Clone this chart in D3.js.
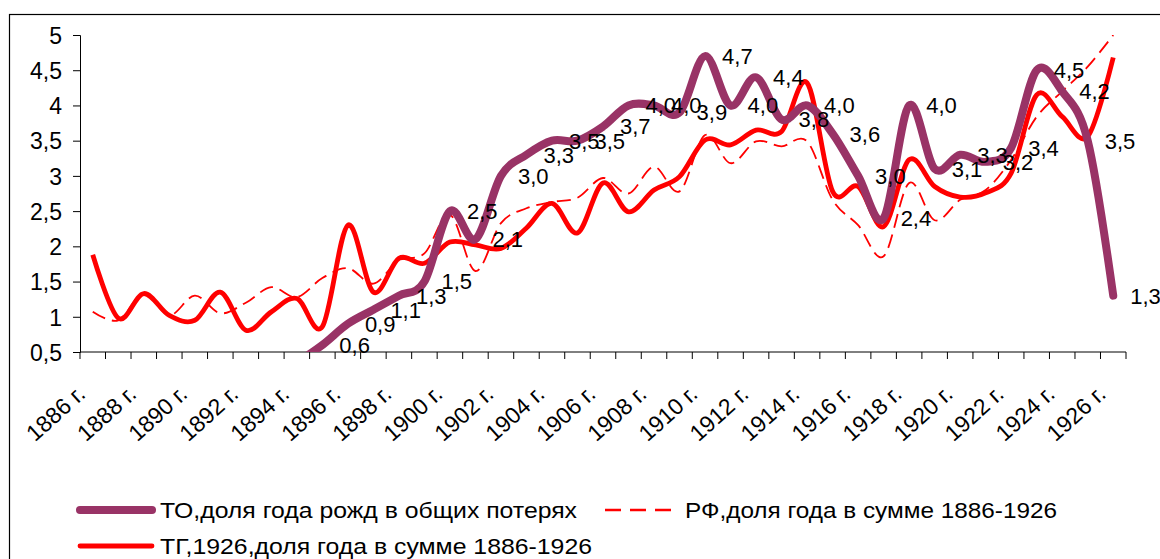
<!DOCTYPE html>
<html>
<head>
<meta charset="utf-8">
<script src="https://cdn.jsdelivr.net/npm/d3@7"></script>
<style>
  body { margin: 0; background: #fff; }
  text { font-family: "Liberation Sans", Arial, sans-serif; fill: #000; }
</style>
</head>
<body>
<svg id="chart"></svg>
<script>
var w = 1160;
var h = 559;

// categories
var years = [1886, 1887, 1888, 1889, 1890, 1891, 1892, 1893, 1894, 1895,
             1896, 1897, 1898, 1899, 1900, 1901, 1902, 1903, 1904, 1905,
             1906, 1907, 1908, 1909, 1910, 1911, 1912, 1913, 1914, 1915,
             1916, 1917, 1918, 1919, 1920, 1921, 1922, 1923, 1924, 1925, 1926];

// ТО, доля года рожд в общих потерях (labelled series)
var toShare = [null, null, null, null, null, null, null, null, 0.35, 0.6,
               0.9, 1.1, 1.3, 1.5, 2.5, 2.1, 3.0, 3.3, 3.5, 3.5,
               3.7, 4.0, 4.0, 3.9, 4.7, 4.0, 4.4, 3.8, 4.0, 3.6,
               3.0, 2.4, 4.0, 3.1, 3.3, 3.2, 3.4, 4.5, 4.2, 3.5, 1.3];

// РФ, доля года в сумме 1886-1926
var rfShare = [1.07, 0.95, 1.33, 1.02, 1.3, 1.05, 1.2, 1.42, 1.28, 1.55,
               1.69, 1.47, 1.8, 1.9, 2.45, 1.65, 2.33, 2.54, 2.63, 2.69,
               2.97, 2.75, 3.13, 2.78, 3.58, 3.18, 3.49, 3.42, 3.49, 2.66,
               2.3, 1.86, 2.9, 2.37, 2.66, 2.8, 3.23, 3.84, 4.2, 4.55, 5.0];

// ТГ, 1926, доля года в сумме 1886-1926
var tgShare = [1.88, 0.98, 1.33, 1.02, 0.95, 1.35, 0.81, 1.07, 1.26, 0.86,
               2.3, 1.35, 1.83, 1.76, 2.06, 2.02, 1.97, 2.26, 2.61, 2.19,
               2.9, 2.49, 2.8, 2.99, 3.51, 3.44, 3.65, 3.63, 4.32, 2.78,
               2.85, 2.28, 3.23, 2.85, 2.7, 2.76, 3.04, 4.15, 3.84, 3.56, 4.68];

var yTicks = [0.5, 1, 1.5, 2, 2.5, 3, 3.5, 4, 4.5, 5];

var legendNames = ["ТО,доля года рожд в общих потерях",
                   "РФ,доля года в сумме 1886-1926",
                   "ТГ,1926,доля года в сумме 1886-1926"];

var plot = {left: 80, right: 1126, top: 35, bottom: 352};

var svg = d3.select("#chart")
    .attr("width", w)
    .attr("height", h);

// outer frame (runs off the right and bottom edges)
svg.append("rect")
    .attr("x", 9.5).attr("y", 14.5)
    .attr("width", 1200).attr("height", 600)
    .attr("fill", "none")
    .attr("stroke", "#000")
    .attr("stroke-width", 1.2);

var x = d3.scaleBand()
    .domain(years)
    .range([plot.left, plot.right]);

var y = d3.scaleLinear()
    .domain([0.5, 5])
    .range([plot.bottom, plot.top]);

var cx = function(yr) { return x(yr) + x.bandwidth() / 2; };
var fmt = function(v) { return d3.format(".1f")(v).replace(".", ","); };

svg.append("clipPath").attr("id", "clip")
  .append("rect")
    .attr("x", plot.left).attr("y", plot.top)
    .attr("width", plot.right - plot.left + 20)
    .attr("height", plot.bottom - plot.top);

// y axis
var yAxis = svg.append("g")
    .attr("transform", "translate(" + plot.left + ",0)")
    .call(d3.axisLeft(y).tickValues(yTicks).tickSize(7).tickPadding(11)
          .tickFormat(function(d) { return d % 1 === 0 ? d : fmt(d); }));
yAxis.selectAll("text").style("font-size", "23px").attr("dy", "0.36em");

// x axis: ticks on category edges, labels every other year
var xAxis = svg.append("g")
    .attr("transform", "translate(0," + plot.bottom + ")");
xAxis.append("line")
    .attr("x1", plot.left).attr("x2", plot.right)
    .attr("stroke", "#000");
xAxis.selectAll("line.tick")
    .data(years.concat([null]))
  .enter().append("line")
    .attr("class", "tick")
    .attr("x1", function(d, i) { return plot.left + i * x.bandwidth(); })
    .attr("x2", function(d, i) { return plot.left + i * x.bandwidth(); })
    .attr("y1", 0).attr("y2", 7)
    .attr("stroke", "#000");
xAxis.selectAll("text")
    .data(years.filter(function(d) { return d % 2 === 0; }))
  .enter().append("text")
    .attr("text-anchor", "end")
    .style("font-size", "23px")
    .attr("transform", function(d) {
        return "translate(" + (cx(d) - 6) + ",44)rotate(-42)";
    })
    .text(function(d) { return d + " г."; });
svg.selectAll(".domain").attr("stroke", "#000");

var chart = svg.append("g").attr("clip-path", "url(#clip)");

var line = function(values) {
    return d3.line()
        .defined(function(d) { return d != null; })
        .x(function(d, i) { return cx(years[i]); })
        .y(function(d) { return y(d); })
        .curve(d3.curveCatmullRom.alpha(0))(values);
};

chart.append("path")
    .attr("d", line(rfShare))
    .attr("fill", "none")
    .attr("stroke", "#ff0000")
    .attr("stroke-width", 1.8)
    .attr("stroke-dasharray", "14,7");

chart.append("path")
    .attr("d", line(tgShare))
    .attr("fill", "none")
    .attr("stroke", "#ff0000")
    .attr("stroke-width", 4.8)
    .attr("stroke-linejoin", "round");

chart.append("path")
    .attr("d", line(toShare))
    .attr("fill", "none")
    .attr("stroke", "#993366")
    .attr("stroke-width", 8)
    .attr("stroke-linecap", "round")
    .attr("stroke-linejoin", "round");

// data labels of the ТО series
svg.append("g").selectAll("text")
    .data(toShare.map(function(v, i) { return {v: v, yr: years[i]}; })
          .filter(function(d) { return d.v != null && d.v >= 0.5; }))
  .enter().append("text")
    .attr("x", function(d) { return cx(d.yr) + 17; })
    .attr("y", function(d) { return y(d.v); })
    .attr("dy", "0.36em")
    .style("font-size", "22px")
    .text(function(d) { return fmt(d.v); });

// legend
var legend = [
    {name: legendNames[0], x: 78, y: 510, color: "#993366", width: 8, dash: null, len: 417},
    {name: legendNames[1], x: 603, y: 510, color: "#ff0000", width: 2.4, dash: "16,9", len: 372},
    {name: legendNames[2], x: 78, y: 546, color: "#ff0000", width: 4.8, dash: null, len: 432}
];
var lg = svg.append("g").selectAll("g")
    .data(legend)
  .enter().append("g")
    .attr("transform", function(d) { return "translate(" + [d.x, d.y] + ")"; });
lg.append("line")
    .attr("x1", 2).attr("x2", 74)
    .attr("stroke", function(d) { return d.color; })
    .attr("stroke-width", function(d) { return d.width; })
    .attr("stroke-dasharray", function(d) { return d.dash; })
    .attr("stroke-linecap", function(d) { return d.dash ? "butt" : "round"; });
lg.append("text")
    .attr("x", 82)
    .attr("dy", "0.36em")
    .style("font-size", "22px")
    .attr("textLength", function(d) { return d.len; })
    .attr("lengthAdjust", "spacingAndGlyphs")
    .text(function(d) { return d.name; });
</script>
</body>
</html>
